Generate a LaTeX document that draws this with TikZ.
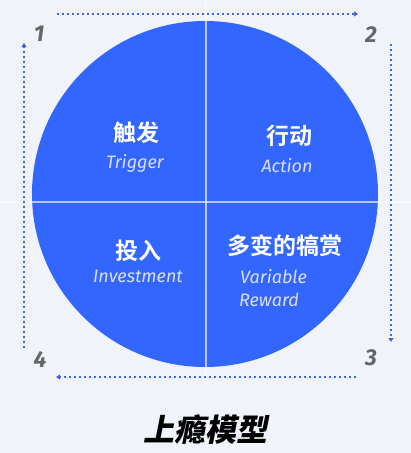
\documentclass[tikz,border=0pt]{standalone}
\usepackage{fontspec}
\setmainfont{Fira Sans}
\newfontfamily\cjkb[AutoFakeSlant=0.2]{Noto Sans CJK SC Bold}
\newfontfamily\cjkbb[FakeSlant=0.2]{Noto Sans CJK SC Black}
\newfontfamily\numf{Fira Sans}
\usetikzlibrary{arrows.meta}
\definecolor{bg}{HTML}{F0F4FA}
\definecolor{blu}{HTML}{3366FF}
\definecolor{dotc}{HTML}{3D66E0}
\definecolor{sub}{HTML}{D9DEF7}
\definecolor{numc}{HTML}{666666}
\tikzset{
  px/.style={x=1pt,y=-1pt},
  zh/.style={text=white,font=\cjkb\fontsize{23}{23}\selectfont,inner sep=0pt},
  en/.style={text=sub,font=\itshape\fontsize{18}{19}\selectfont,inner sep=0pt},
  num/.style={text=numc,font=\numf\itshape\bfseries\fontsize{23}{23}\selectfont,inner sep=0pt},
  flow/.style={dotc,line width=2pt,dash pattern=on 2pt off 3pt,-{Triangle[length=4pt,width=5pt]}},
  divider/.style={white,opacity=0.45,line width=1.5pt}
}
\begin{document}
\begin{tikzpicture}[px]
\fill[bg] (0,0) rectangle (411,453);
\useasboundingbox (0,0) rectangle (411,453);
\fill[blu] (205,194) circle (173);
\draw[divider] (206,0) -- (206,385);
\draw[divider] (0,202) -- (411,202);
\begin{scope}
\clip (205,194) circle (173);
\draw[white,opacity=0.35,line width=1.5pt] (206,0) -- (206,385);
\draw[white,opacity=0.35,line width=1.5pt] (0,202) -- (411,202);
\end{scope}
% quadrant texts
\node[zh] (t1) at (136,133) {触发};
\node[en] (e1) at (135,163) {Trigger};
\node[zh] (t2) at (289,136) {行动};
\node[en] (e2) at (287,166) {Action};
\node[zh] (t4) at (138,251) {投入};
\node[en] (e4) at (138,276) {Investment};
\node[zh] (t3) at (285,246) {多变的犒赏};
\node[en,anchor=west] (e3a) at (240,277) {Variable};
\node[en,anchor=west] (e3b) at (239,300) {Reward};
% numbers
\node[num] (n1) at (39,34) {1};
\node[num] (n2) at (371,35) {2};
\node[num] (n3) at (371,358) {3};
\node[num] (n4) at (40,360) {4};
% flow coordinates
\coordinate (a1) at (57,14);
\coordinate (a2) at (358,14);
\coordinate (b1) at (391,44);
\coordinate (b2) at (391,342);
\coordinate (c1) at (356,377);
\coordinate (c2) at (56,377);
\coordinate (d1) at (24,348);
\coordinate (d2) at (24,43);
\draw[flow] (a1) -- (a2);
\draw[flow] (b1) -- (b2);
\draw[flow] (c1) -- (c2);
\draw[flow] (d1) -- (d2);
% title
\node[font=\cjkbb\fontsize{31}{31}\selectfont,text=black,inner sep=0pt] (title) at (205,430) {上瘾模型};
\end{tikzpicture}
\end{document}
